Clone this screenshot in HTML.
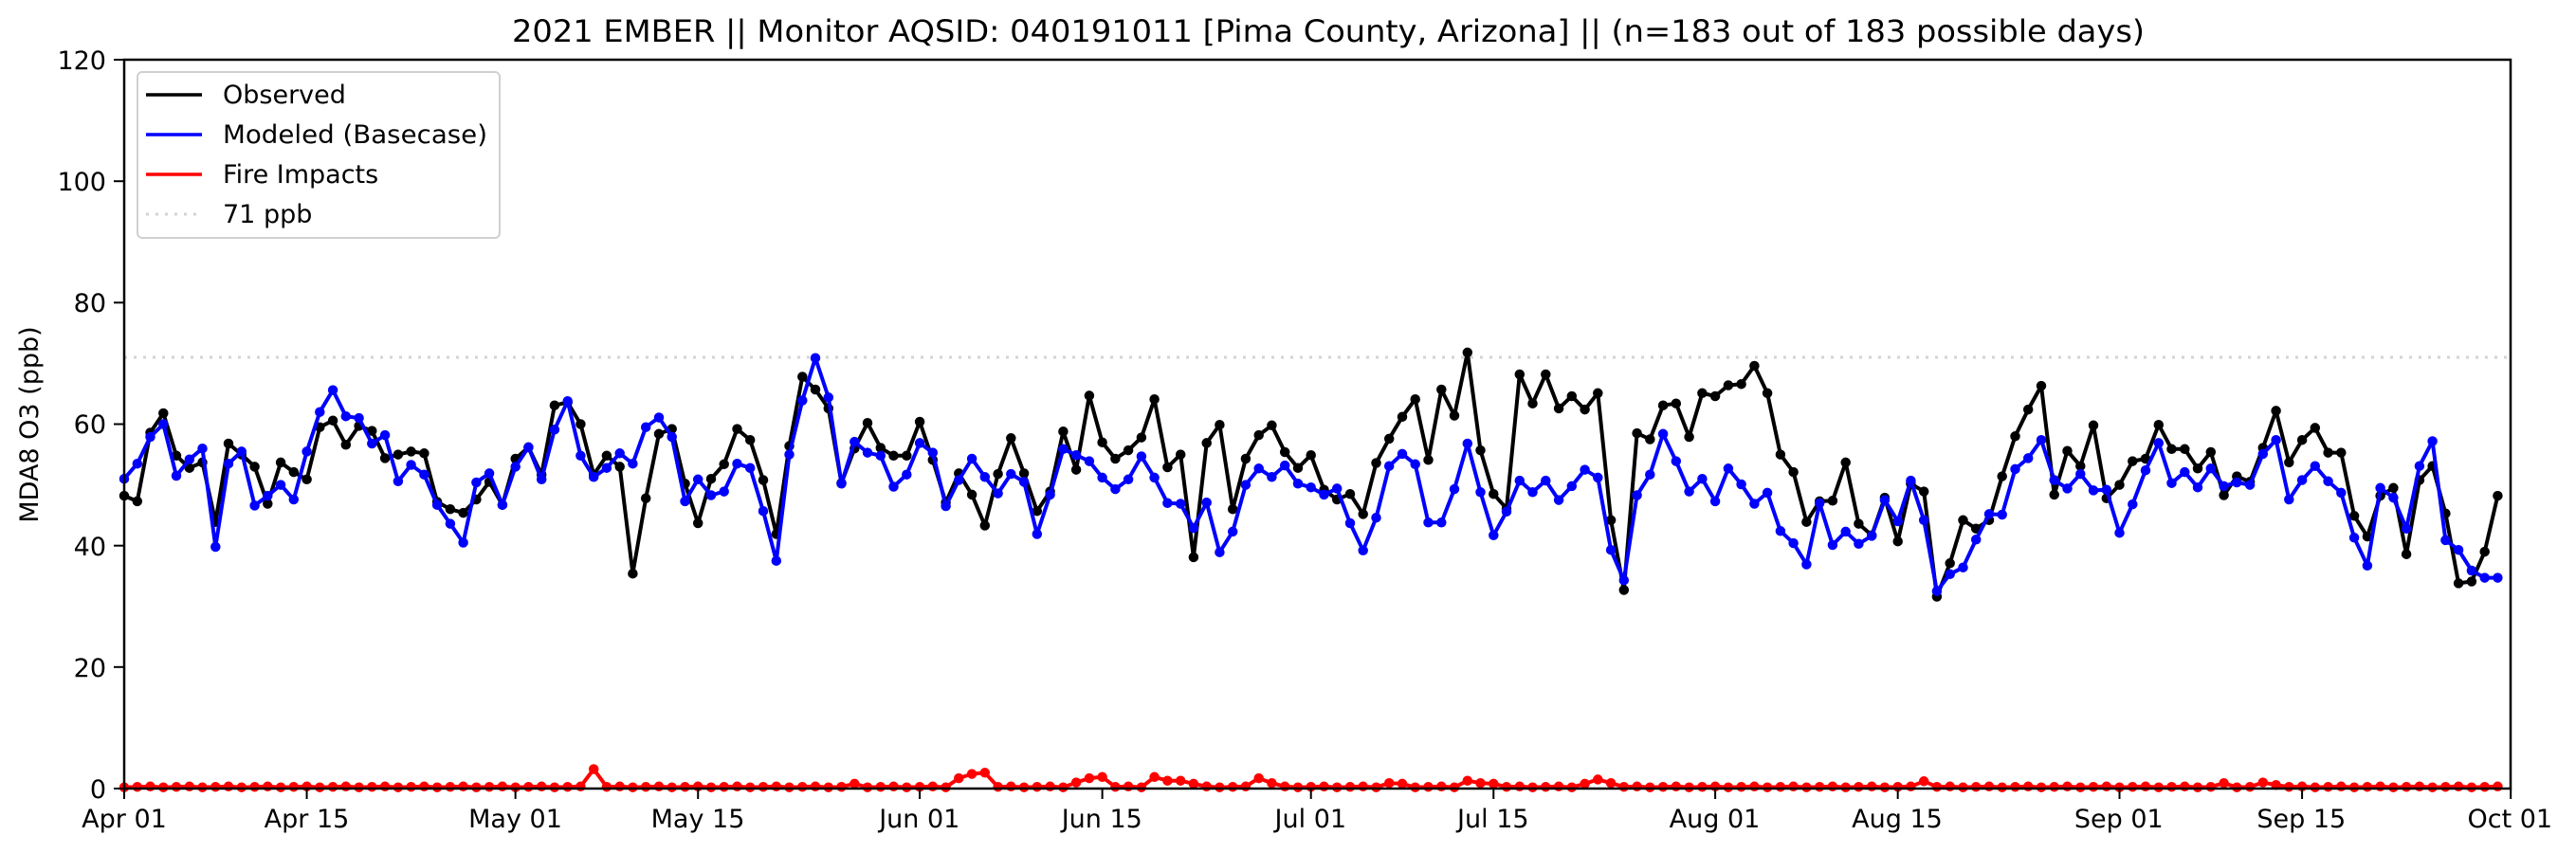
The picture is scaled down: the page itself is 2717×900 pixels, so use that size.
<!DOCTYPE html>
<html><head><meta charset="utf-8"><style>
html,body{margin:0;padding:0;background:#fff;}
svg{display:block;font-family:"DejaVu Sans","Liberation Sans",sans-serif;}
</style></head><body>
<svg id="s" width="2717" height="900" viewBox="0 0 2717 900" xmlns="http://www.w3.org/2000/svg">
<rect width="2717" height="900" fill="#fff"/>
<text x="1401" y="44" font-size="32" text-anchor="middle" textLength="1722" lengthAdjust="spacingAndGlyphs">2021 EMBER || Monitor AQSID: 040191011 [Pima County, Arizona] || (n=183 out of 183 possible days)</text>
<line x1="131" y1="377" x2="2648" y2="377" stroke="#d3d3d3" stroke-width="3" stroke-dasharray="3,7"/>
<g id="data"></g>
<rect x="131" y="63" width="2517" height="769" fill="none" stroke="#000" stroke-width="2.5"/>
<g stroke="#000" stroke-width="2">
<line x1="120" y1="832" x2="131" y2="832"/><line x1="120" y1="703.8" x2="131" y2="703.8"/><line x1="120" y1="575.7" x2="131" y2="575.7"/><line x1="120" y1="447.5" x2="131" y2="447.5"/><line x1="120" y1="319.3" x2="131" y2="319.3"/><line x1="120" y1="191.2" x2="131" y2="191.2"/><line x1="120" y1="63" x2="131" y2="63"/>
</g>
<g font-size="27" text-anchor="end">
<text x="112" y="842">0</text><text x="112" y="714">20</text><text x="112" y="586">40</text><text x="112" y="457">60</text><text x="112" y="329">80</text><text x="112" y="201">100</text><text x="112" y="73">120</text>
</g>
<text transform="translate(40,448) rotate(-90)" font-size="27" text-anchor="middle">MDA8 O3 (ppb)</text>
<g id="xt" stroke="#000" stroke-width="2"></g>
<g font-size="27" text-anchor="middle">
<text x="131" y="873">Apr 01</text><text x="323.5" y="873">Apr 15</text><text x="543.5" y="873">May 01</text><text x="736" y="873">May 15</text><text x="969.8" y="873">Jun 01</text><text x="1162.3" y="873">Jun 15</text><text x="1382.3" y="873">Jul 01</text><text x="1574.8" y="873">Jul 15</text><text x="1808.5" y="873">Aug 01</text><text x="2001" y="873">Aug 15</text><text x="2234.8" y="873">Sep 01</text><text x="2427.3" y="873">Sep 15</text><text x="2647.3" y="873">Oct 01</text>
</g>
<rect x="145" y="76" width="382" height="175" rx="5" fill="#fff" fill-opacity="0.8" stroke="#d0d0d0" stroke-width="2"/>
<line x1="154" y1="100" x2="213" y2="100" stroke="#000" stroke-width="3.5"/>
<line x1="154" y1="142" x2="213" y2="142" stroke="#0000ff" stroke-width="3.5"/>
<line x1="154" y1="184" x2="213" y2="184" stroke="#ff0000" stroke-width="3.5"/>
<line x1="154" y1="226" x2="213" y2="226" stroke="#d3d3d3" stroke-width="3" stroke-dasharray="3,7"/>
<g font-size="27">
<text x="235" y="109">Observed</text><text x="235" y="151" textLength="279" lengthAdjust="spacingAndGlyphs">Modeled (Basecase)</text><text x="235" y="193">Fire Impacts</text><text x="235" y="235">71 ppb</text>
</g>
</svg>
<script>
var obs=[48.2,47.3,58.6,61.8,54.8,52.8,53.7,43.9,56.8,55,53,46.9,53.7,52.1,50.9,59.5,60.6,56.6,59.7,58.9,54.4,55,55.5,55.2,47.2,46,45.4,47.6,50.5,46.7,54.3,56.2,51.7,63.1,63.6,60,51.7,54.8,53,35.4,47.8,58.4,
59.2,50.2,43.7,51,53.4,59.2,57.4,50.8,41.9,56.4,67.8,65.7,62.6,50.3,56,60.2,56.1,54.8,54.8,60.4,54.1,47.1,51.9,48.4,43.3,51.8,57.7,51.9,45.7,48.9,58.8,52.5,64.7,57,54.3,55.7,57.8,64.1,52.9,55,
38.1,56.9,59.9,46,54.3,58.2,59.8,55.4,52.8,54.9,49.2,47.6,48.5,45.2,53.6,57.6,61.2,64.1,54.1,65.7,61.4,71.8,55.7,48.5,46.1,68.2,63.4,68.2,62.6,64.6,62.4,65.1,44.2,32.7,58.5,57.5,63.1,63.4,57.9,65.1,
64.6,66.4,66.6,69.6,65.1,55,52.1,43.9,47.3,47.4,53.7,43.6,41.7,47.9,40.7,50.2,48.9,31.6,37.1,44.2,42.8,44.2,51.4,58,62.4,66.3,48.4,55.6,53.1,59.8,47.8,50,53.9,54.3,59.9,55.9,55.9,52.7,55.4,48.3,
51.4,50.5,56.1,62.2,53.7,57.4,59.4,55.3,55.3,44.9,41.5,48.2,49.5,38.6,50.8,53.1,45.3,33.8,34.1,39,48.2];
var mod=[51,53.5,57.9,60,51.5,54.2,56,39.8,53.5,55.5,46.6,48.2,50,47.6,55.5,62,65.6,61.3,61,56.8,58.2,50.6,53.3,51.7,46.7,43.6,40.5,50.4,51.9,46.7,53,56.2,50.9,59.1,63.8,54.8,51.3,52.8,55.2,53.5,59.5,61.1,
57.9,47.3,50.9,48.3,48.9,53.5,52.8,45.7,37.5,55,63.9,70.9,64.4,50.2,57.1,55.3,54.8,49.7,51.7,56.9,55.3,46.5,50.8,54.3,51.3,48.6,51.8,50.5,41.9,48.4,55.9,54.9,53.9,51.2,49.3,50.9,54.7,51.2,47,46.9,
42.9,47.1,38.9,42.3,50,52.7,51.3,53.2,50.2,49.6,48.4,49.4,43.7,39.2,44.6,53.1,55.1,53.4,43.8,43.8,49.3,56.8,48.8,41.7,45.6,50.7,48.8,50.7,47.5,49.8,52.5,51.2,39.3,34.3,48.3,51.7,58.4,53.9,48.9,51,
47.3,52.7,50.1,46.9,48.7,42.4,40.4,36.9,47,40.1,42.3,40.3,41.6,47.5,44,50.7,44.2,32.5,35.3,36.4,41,45.2,45.1,52.6,54.4,57.4,50.8,49.4,51.8,49.1,49.2,42.1,46.8,52.4,56.9,50.3,52.1,49.6,52.7,49.8,
50.4,50,55.1,57.4,47.6,50.8,53.1,50.6,48.7,41.3,36.7,49.5,47.9,42.8,53.1,57.2,40.9,39.3,35.9,34.7,34.7];
var fire=[];for(var i=0;i<183;i++)fire.push(0.2+0.15*((i*7)%3)/2);
var b={36:3.2,56:0.8,64:1.7,65:2.4,66:2.6,73:1.0,74:1.7,75:1.9,79:1.9,80:1.3,81:1.3,82:0.8,87:1.7,88:0.9,97:0.9,98:0.8,103:1.3,104:0.9,105:0.8,112:0.8,113:1.5,114:0.9,138:1.2,161:0.9,164:1.0,165:0.6};
for(var k in b)fire[k]=b[k];
function X(d){return 131+d*13.755;}function Y(v){return 832-v*6.408;}
var NS="http://www.w3.org/2000/svg",g=document.getElementById("data");
function series(a,c){var p="",q="";for(var i=0;i<a.length;i++){var x=X(i).toFixed(1),y=Y(a[i]).toFixed(1);p+=(i?"L":"M")+x+","+y;q+="M"+x+","+y+"l0,0";}
var e=document.createElementNS(NS,"path");e.setAttribute("d",p);e.setAttribute("fill","none");e.setAttribute("stroke",c);e.setAttribute("stroke-width","4");e.setAttribute("stroke-linejoin","round");g.appendChild(e);
var m=document.createElementNS(NS,"path");m.setAttribute("d",q);m.setAttribute("fill","none");m.setAttribute("stroke",c);m.setAttribute("stroke-width","10.5");m.setAttribute("stroke-linecap","round");g.appendChild(m);}
series(obs,"#000");series(mod,"#0000ff");series(fire,"#ff0000");
var t=[0,14,30,44,61,75,91,105,122,136,153,167,183],xt=document.getElementById("xt");
t.forEach(function(d){var l=document.createElementNS(NS,"line");l.setAttribute("x1",X(d));l.setAttribute("x2",X(d));l.setAttribute("y1",832);l.setAttribute("y2",843);xt.appendChild(l);});
</script>
</body></html>
